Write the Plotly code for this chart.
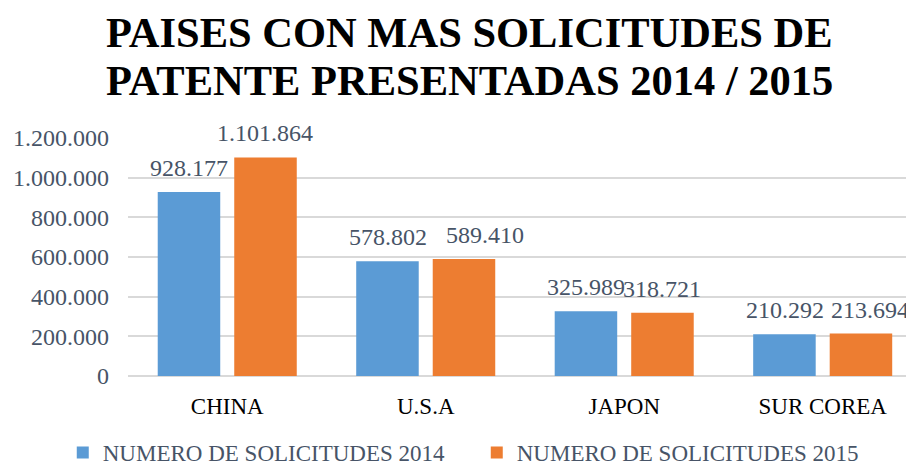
import plotly.graph_objects as go

categories = ["CHINA", "U.S.A", "JAPON", "SUR COREA"]
values_2014 = [928177, 578802, 325989, 210292]
values_2015 = [1101864, 589410, 318721, 213694]
labels_2014 = ["928.177", "578.802", "325.989", "210.292"]
labels_2015 = ["1.101.864", "589.410", "318.721", "213.694"]
series_names = ["NUMERO DE SOLICITUDES 2014", "NUMERO DE SOLICITUDES 2015"]
tick_vals = [0, 200000, 400000, 600000, 800000, 1000000, 1200000]
tick_text = ["0", "200.000", "400.000", "600.000", "800.000", "1.000.000", "1.200.000"]
title_lines = ["PAISES CON MAS SOLICITUDES DE", "PATENTE PRESENTADAS 2014 / 2015"]

# styling
FONT = "Liberation Serif, Times New Roman, serif"
GRAY = "#475467"
BLUE = "#5b9bd5"
ORANGE = "#ed7d31"
BAR_OFFSET_PX = 38
# label nudges (pixels) for 2015 labels that were moved aside to avoid overlap
label_nudge_2015 = {"U.S.A": 21, "SUR COREA": 9}

fig = go.Figure()
fig.add_trace(go.Bar(x=categories, y=values_2014, name=series_names[0],
                     marker=dict(color=BLUE, line=dict(width=0))))
fig.add_trace(go.Bar(x=categories, y=values_2015, name=series_names[1],
                     marker=dict(color=ORANGE, line=dict(width=0))))

annotations = []
for c, v, t in zip(categories, values_2014, labels_2014):
    annotations.append(dict(x=c, y=v, text=t, showarrow=False, xref="x", yref="y",
                            xshift=-BAR_OFFSET_PX, yshift=9, yanchor="bottom",
                            font=dict(family=FONT, size=24, color=GRAY)))
for c, v, t in zip(categories, values_2015, labels_2015):
    annotations.append(dict(x=c, y=v, text=t, showarrow=False, xref="x", yref="y",
                            xshift=BAR_OFFSET_PX + label_nudge_2015.get(c, 0),
                            yshift=9, yanchor="bottom",
                            font=dict(family=FONT, size=24, color=GRAY)))
title_y = [1.443, 1.240]
for line, ty in zip(title_lines, title_y):
    annotations.append(dict(x=0.435, y=ty, xref="paper", yref="paper",
                            text="<b>" + line + "</b>", showarrow=False,
                            xanchor="center", yanchor="middle",
                            font=dict(family=FONT, size=42.5, color="black")))

fig.update_layout(
    width=906, height=458,
    margin=dict(l=120, r=0, t=130, b=90, autoexpand=False),
    paper_bgcolor="white", plot_bgcolor="white",
    barmode="group", bargap=0.229, bargroupgap=0.183,
    font=dict(family=FONT, size=23, color=GRAY),
    showlegend=True,
    legend=dict(orientation="h", x=-0.083, xanchor="left", y=-0.231,
                yanchor="top", entrywidth=369, entrywidthmode="pixels",
                font=dict(family=FONT, size=23, color=GRAY), itemclick=False),
    annotations=annotations,
    xaxis=dict(range=[-0.5, 3.46], showgrid=False, showline=False, zeroline=False,
               ticks="", ticklabelstandoff=14, automargin=False,
               tickfont=dict(family=FONT, size=23, color="black")),
    yaxis=dict(range=[0, 1200000], tickvals=tick_vals, ticktext=tick_text,
               showgrid=True, gridcolor="#d9d9d9", gridwidth=1.5,
               zeroline=True, zerolinecolor="#d9d9d9", zerolinewidth=1.5,
               showline=False, ticks="", ticklabelstandoff=18, automargin=False,
               tickfont=dict(family=FONT, size=24, color=GRAY)),
)

fig.write_html("out.html")
